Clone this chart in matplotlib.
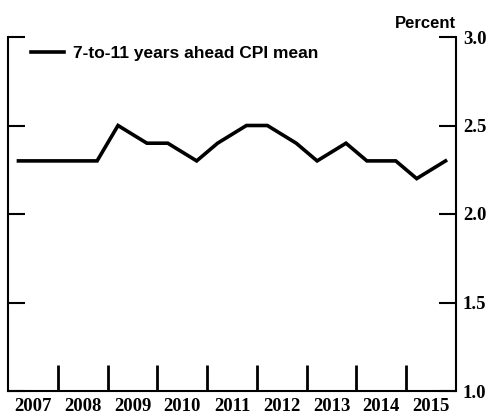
import numpy as np
import matplotlib
matplotlib.use("Agg")
import matplotlib.pyplot as plt

# survey dates (March and October of each year) and the mean expectation
dates = [2007.21, 2007.79, 2008.21, 2008.79, 2009.21, 2009.79, 2010.21, 2010.79,
         2011.21, 2011.79, 2012.21, 2012.79, 2013.21, 2013.79, 2014.21, 2014.79,
         2015.21, 2015.79]
cpi_mean = [2.3, 2.3, 2.3, 2.3, 2.5, 2.4, 2.4, 2.3,
            2.4, 2.5, 2.5, 2.4, 2.3, 2.4, 2.3, 2.3,
            2.2, 2.3]
years = list(range(2007, 2016))
yticks = [1.0, 1.5, 2.0, 2.5, 3.0]

fig = plt.figure(figsize=(4.87, 4.2), dpi=100)
ax = fig.add_axes([8/487, 29/420, 448/487, 354/420])

ax.plot(dates, cpi_mean, color="black", lw=2.6, solid_joinstyle="miter",
        label="7-to-11 years ahead CPI mean")

ax.set_xlim(2007, 2016)
ax.set_ylim(1.0, 3.0)

# year boundaries as ticks, year names centred between them
ax.set_xticks(years[1:])
ax.set_xticklabels([])
ax.set_xticks([y + 0.5 for y in years], minor=True)
ax.set_xticklabels([str(y) for y in years], minor=True,
                   family="Liberation Serif", fontsize=13.5, fontweight="bold")
ax.tick_params(axis="x", which="major", direction="in", length=19, width=2)
ax.tick_params(axis="x", which="minor", length=0, pad=5)

ax.set_yticks(yticks)
ax.set_yticklabels(["%.1f" % v for v in yticks], family="Liberation Serif",
                   fontsize=13.5, fontweight="bold")
ax.tick_params(axis="y", direction="in", length=12, width=1.5,
               left=True, right=True, labelleft=False, labelright=True, pad=5)

ax.spines["top"].set_visible(False)
for s in ["left", "right", "bottom"]:
    ax.spines[s].set_linewidth(1.5)

ax.text(1.0, 1.018, "Percent", transform=ax.transAxes, ha="right", va="bottom",
        family="Liberation Sans", fontsize=12, fontweight="bold")

leg = ax.legend(loc="upper left", frameon=False, handlelength=1.9, handletextpad=0.55,
                borderaxespad=0.0, bbox_to_anchor=(0.035, 0.995),
                prop={"family": "Liberation Sans", "size": 12.5, "weight": "bold"})

fig.savefig("out.png", dpi=100)
